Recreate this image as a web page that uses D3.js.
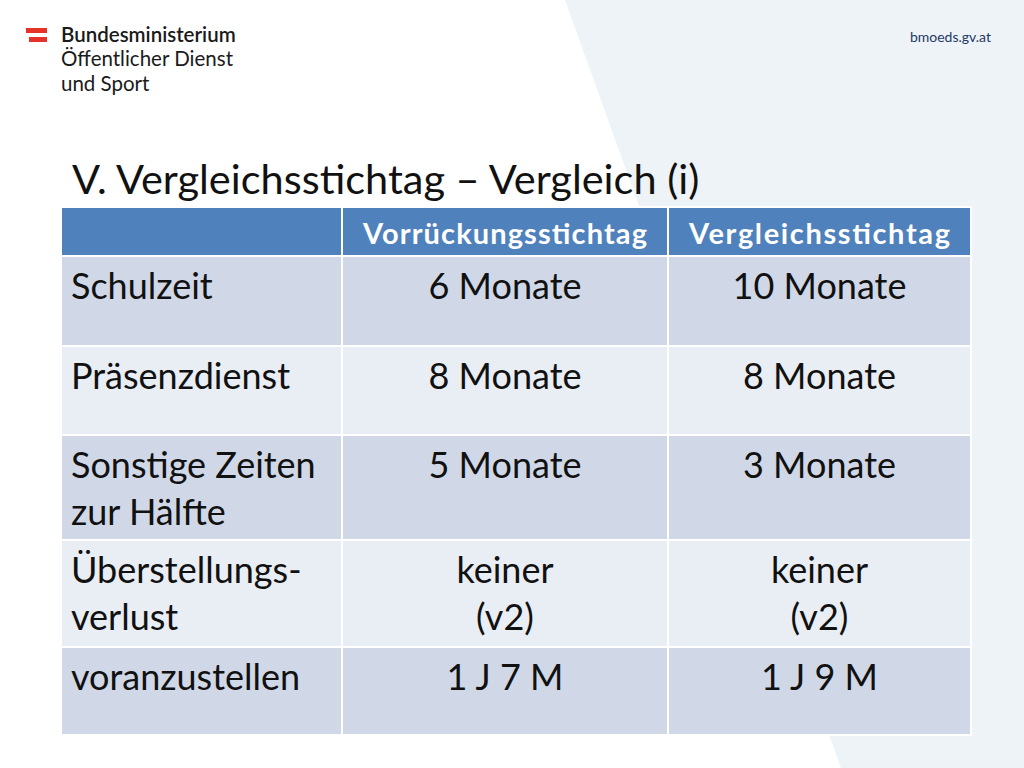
<!DOCTYPE html><html><head><meta charset="utf-8"><script src="https://cdn.jsdelivr.net/npm/d3@7/dist/d3.min.js"></script>
<style>body{margin:0;background:#fff}svg{display:block}</style></head><body><svg id="c" width="1024" height="768"></svg>
<script>
const columns = ["", "Vorrückungsstichtag", "Vergleichsstichtag"];
const rowLabels = [["Schulzeit"], ["Präsenzdienst"], ["Sonstige Zeiten","zur Hälfte"], ["Überstellungs-","verlust"], ["voranzustellen"]];
const vorrueckung = [["6 Monate"], ["8 Monate"], ["5 Monate"], ["keiner","(v2)"], ["1 J 7 M"]];
const vergleich = [["10 Monate"], ["8 Monate"], ["3 Monate"], ["keiner","(v2)"], ["1 J 9 M"]];

const svg = d3.select("#c");
const F = "Lato, 'Open Sans', sans-serif";
svg.append("polygon").attr("points","565,0 1024,0 1024,768 841,768").attr("fill","#eef3f7");
svg.append("rect").attr("x",26).attr("y",28).attr("width",21).attr("height",5).attr("fill","#e6332a");
svg.append("rect").attr("x",29).attr("y",37).attr("width",18).attr("height",5).attr("fill","#e6332a");
[["Bundesministerium",42,"600"],["Öffentlicher Dienst",66,"400"],["und Sport",91,"400"]].forEach(([t,y,w])=>
  svg.append("text").attr("x",61).attr("y",y).attr("font-family",F).attr("font-size",20.5).attr("font-weight",w).attr("fill","#1a1a1a").text(t));
svg.append("text").attr("x",991).attr("y",42).attr("text-anchor","end").attr("font-family",F).attr("font-size",14).attr("fill","#1f3864").text("bmoeds.gv.at");
svg.append("text").attr("x",72).attr("y",194).attr("font-family",F).attr("font-size",41.5).attr("fill","#111").text("V. Vergleichsstichtag – Vergleich (i)");

const colEdges=[61,342,668,971];
const rowEdges=[207,256,346,435,540,647,735];
const g=svg.append("g");
for(let c=0;c<3;c++){
  g.append("rect").attr("x",colEdges[c]).attr("y",rowEdges[0]).attr("width",colEdges[c+1]-colEdges[c]).attr("height",rowEdges[1]-rowEdges[0]).attr("fill","#4f81bd").attr("stroke","#fff").attr("stroke-width",2);
  if(columns[c]) g.append("text").attr("x",(colEdges[c]+colEdges[c+1])/2).attr("y",244).attr("text-anchor","middle").attr("font-family",F).attr("font-weight","700").attr("font-size",29).attr("textLength",colEdges[c+1]-colEdges[c]-42).attr("fill","#fff").text(columns[c]);
}
const data=rowLabels.map((l,i)=>[l,vorrueckung[i],vergleich[i]]);
data.forEach((row,i)=>{
  const y0=rowEdges[i+1],y1=rowEdges[i+2];
  row.forEach((cell,c)=>{
    g.append("rect").attr("x",colEdges[c]).attr("y",y0).attr("width",colEdges[c+1]-colEdges[c]).attr("height",y1-y0).attr("fill",i%2==0?"#d0d8e8":"#e9edf4").attr("stroke","#fff").attr("stroke-width",2);
    cell.forEach((t,k)=>g.append("text").attr("x",c==0?colEdges[0]+10:(colEdges[c]+colEdges[c+1])/2).attr("y",y0+43+k*47).attr("text-anchor",c==0?"start":"middle").attr("font-family",F).attr("font-size",36).attr("fill","#111").text(t));
  });
});
</script></body></html>
